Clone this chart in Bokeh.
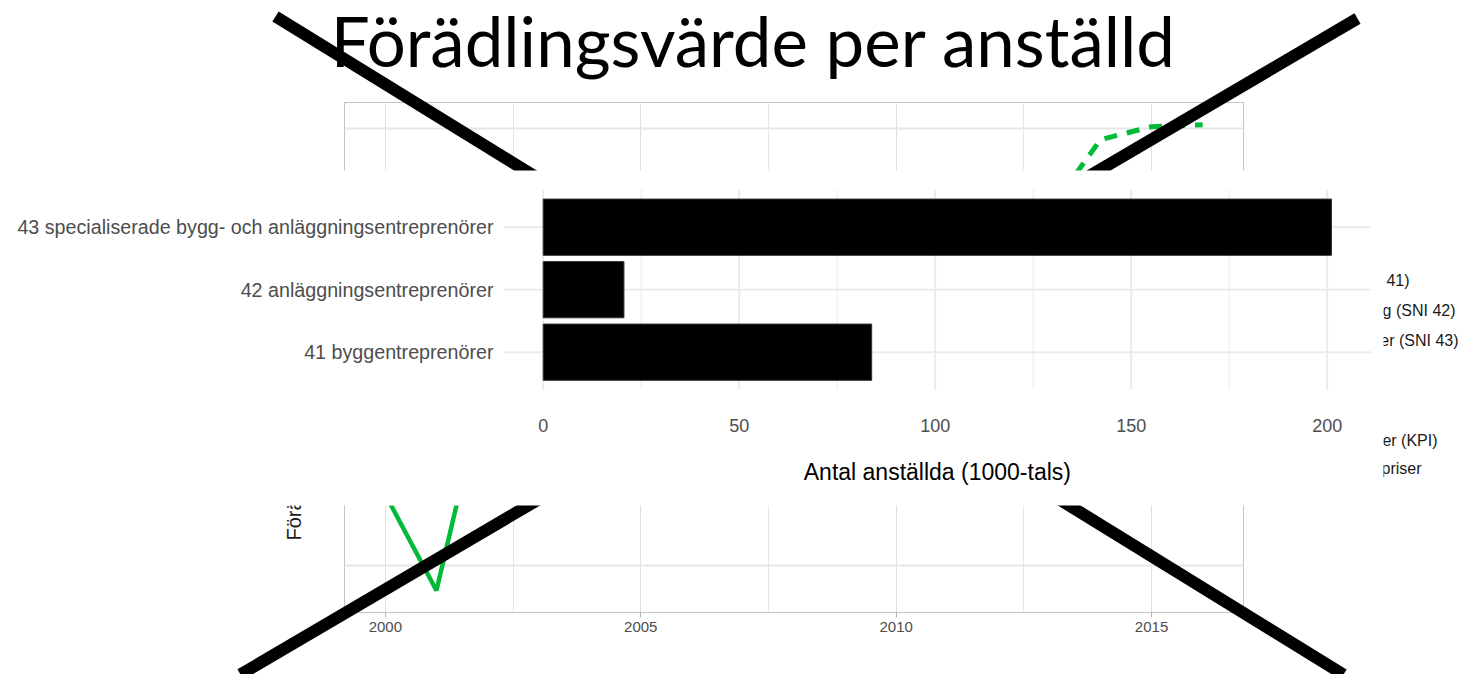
import numpy as np
from bokeh.plotting import figure
from bokeh.models import Range1d, FixedTicker
from bokeh.core.properties import value
from bokeh.embed import file_html
from bokeh.resources import INLINE

# ---------------- data ----------------
title_text = "Förädlingsvärde per anställd"

# foreground bar chart
bar_categories = ["41 byggentreprenörer",
                  "42 anläggningsentreprenörer",
                  "43 specialiserade bygg- och anläggningsentreprenörer"]
bar_values = [83.8, 20.6, 201.1]
bar_ticks = [0, 50, 100, 150, 200]
bar_minor_ticks = [25, 75, 125, 175]
bar_xlabel = "Antal anställda (1000-tals)"

# background (crossed-out) line chart
years = list(range(2000, 2017))
sni42_kpi = [648.7, 582.8, 731.8, 745, 758, 770, 790, 805, 785, 742, 760,
             772, 768, 780, 798, 812, 825]
sni42_lopande = [660, 650, 672, 690, 705, 720, 745, 770, 765, 740, 770,
                 790, 800, 843.6, 892.4, 901.3, 902.7]
year_ticks = [2000, 2005, 2010, 2015]
year_minor_ticks = [2002.5, 2007.5, 2012.5]
value_ticks = [600, 700, 800, 900]
value_minor_ticks = [650, 750, 850]
bg_ylabel = "Förädlingsvärde per anställd (tkr)"
legend_labels = ["Byggentreprenörer (SNI 41)",
                 "Anläggning (SNI 42)",
                 "Specialiserade bygg- och anläggningsentreprenörer (SNI 43)",
                 "Deflaterat med konsumentpriser (KPI)",
                 "Löpande priser"]

# ---------------- layout (page pixels) ----------------
FIG_W, FIG_H = 1463, 674
FR_L, FR_R, FR_T, FR_B = 344, 1243, 102, 612          # background panel
BOX_L, BOX_R, BOX_T, BOX_B = 0, 1383, 170, 505          # pasted bar chart
BAR_ZERO_PX, BAR_PX_PER_UNIT = 542.7, 3.92
CAT_MID_PY, CAT_STEP_PX = 289.2, 62.5

legend_x = [1409, 1455, 1458, 1437, 1421]
legend_y = [280, 310, 340, 440, 468]
X_xs = [[275, 1343], [1357, 240]]
X_ys = [[16, 674], [18, 674]]

GREEN = "#00BA38"
GREY_TXT = "#4D4D4D"
SANS = value("Liberation Sans")

n_cat = len(bar_categories)
cat_pos = list(range(1, n_cat + 1))
bar_max = max(bar_values)
bar_xmin, bar_xmax = -0.05 * bar_max, 1.05 * bar_max
cat_ymin, cat_ymax = 1 - 0.6, n_cat + 0.6
BAR_H = 0.9

p = figure(width=FIG_W, height=FIG_H, output_backend="svg", toolbar_location=None,
           x_range=Range1d(1999.2, 2016.8), y_range=Range1d(567.7, 917.9),
           min_border_left=FR_L, min_border_right=FIG_W - FR_R,
           min_border_top=FR_T, min_border_bottom=FIG_H - FR_B)

p.background_fill_color = "white"
p.border_fill_color = "white"
p.outline_line_color = "#C4C4C4"
p.outline_line_width = 1

p.extra_x_ranges = {
    "px": Range1d(FR_L, FR_R),
    "bx": Range1d((FR_L - BAR_ZERO_PX) / BAR_PX_PER_UNIT, (FR_R - BAR_ZERO_PX) / BAR_PX_PER_UNIT),
}
p.extra_y_ranges = {
    "py": Range1d(FR_B, FR_T),
    "by": Range1d(2 - (FR_B - CAT_MID_PY) / CAT_STEP_PX, 2 + (CAT_MID_PY - FR_T) / CAT_STEP_PX),
}

# background axes / grid
p.yaxis.visible = False
xa = p.xaxis[0]
xa.ticker = FixedTicker(ticks=year_ticks, minor_ticks=year_minor_ticks)
xa.axis_line_color = None
xa.major_tick_line_color = "#B8B8B8"
xa.major_tick_out = 5
xa.major_tick_in = 0
xa.minor_tick_line_color = None
xa.major_label_text_font = "Liberation Sans"
xa.major_label_text_font_size = "15px"
xa.major_label_text_color = GREY_TXT
xa.major_label_standoff = 4

p.xgrid.grid_line_color = "#E0E0E0"
p.xgrid.grid_line_width = 1
p.xgrid.minor_grid_line_color = "#E6E6E6"
p.xgrid.minor_grid_line_width = 1
p.ygrid.ticker = FixedTicker(ticks=value_ticks, minor_ticks=value_minor_ticks)
p.ygrid.grid_line_color = "#E6E6E6"
p.ygrid.grid_line_width = 2
p.ygrid.minor_grid_line_color = "#EEEEEE"
p.ygrid.minor_grid_line_width = 1

# background lines
p.line(years, sni42_kpi, line_color=GREEN, line_width=4.5)
p.line(years, sni42_lopande, line_color=GREEN, line_width=5, line_dash="13 10")

# background legend (mostly covered)
p.text(x=legend_x, y=legend_y, text=legend_labels, x_range_name="px", y_range_name="py",
       text_align="right", text_baseline="middle", text_font=SANS, text_font_size="16px",
       text_color="#1A1A1A", level="overlay")
# background y-axis title (mostly covered)
p.text(x=[293], y=[540], text=[bg_ylabel], angle=np.pi / 2, x_range_name="px", y_range_name="py",
       text_align="left", text_baseline="middle", text_font=SANS, text_font_size="20px",
       text_color="#1A1A1A", level="overlay")

# the big X
p.multi_line(xs=X_xs, ys=X_ys, x_range_name="px", y_range_name="py",
             line_color="black", line_width=12, line_cap="butt", level="overlay")

# slide title
p.text(x=[753], y=[40], text=[title_text], x_range_name="px", y_range_name="py",
       text_align="center", text_baseline="alphabetic", text_font=value("Lato"),
       text_font_size="69px", text_color="black", level="overlay")

# pasted bar chart: white background
p.quad(left=[BOX_L], right=[BOX_R], top=[BOX_T], bottom=[BOX_B], x_range_name="px", y_range_name="py",
       fill_color="white", line_color=None, level="overlay")

# bar chart grid
p.segment(x0=bar_minor_ticks, x1=bar_minor_ticks, y0=[cat_ymin] * len(bar_minor_ticks),
          y1=[cat_ymax] * len(bar_minor_ticks), x_range_name="bx", y_range_name="by",
          line_color="#EEEEEE", line_width=1.2, level="overlay")
p.segment(x0=bar_ticks, x1=bar_ticks, y0=[cat_ymin] * len(bar_ticks), y1=[cat_ymax] * len(bar_ticks),
          x_range_name="bx", y_range_name="by", line_color="#EBEBEB", line_width=2, level="overlay")
p.segment(x0=[bar_xmin] * n_cat, x1=[bar_xmax] * n_cat, y0=cat_pos, y1=cat_pos,
          x_range_name="bx", y_range_name="by", line_color="#EBEBEB", line_width=2, level="overlay")

# bars
p.quad(left=[0] * n_cat, right=bar_values,
       top=[c + BAR_H / 2 for c in cat_pos], bottom=[c - BAR_H / 2 for c in cat_pos],
       x_range_name="bx", y_range_name="by",
       fill_color="black", line_color="#333333", line_width=1, level="overlay")

# bar chart tick labels, category labels, axis title
p.text(x=bar_ticks, y=[425] * len(bar_ticks), text=[str(t) for t in bar_ticks],
       x_range_name="bx", y_range_name="py", text_align="center", text_baseline="middle",
       text_font=SANS, text_font_size="18px", text_color=GREY_TXT, level="overlay")
p.text(x=[493] * n_cat, y=cat_pos, text=bar_categories, x_range_name="px", y_range_name="by",
       text_align="right", text_baseline="middle", text_font=SANS, text_font_size="19.7px",
       text_color=GREY_TXT, level="overlay")
p.text(x=[(bar_xmin + bar_xmax) / 2], y=[471], text=[bar_xlabel], x_range_name="bx", y_range_name="py",
       text_align="center", text_baseline="middle", text_font=SANS, text_font_size="23px",
       text_color="black", level="overlay")

open("out.html", "w").write(file_html(p, INLINE))
